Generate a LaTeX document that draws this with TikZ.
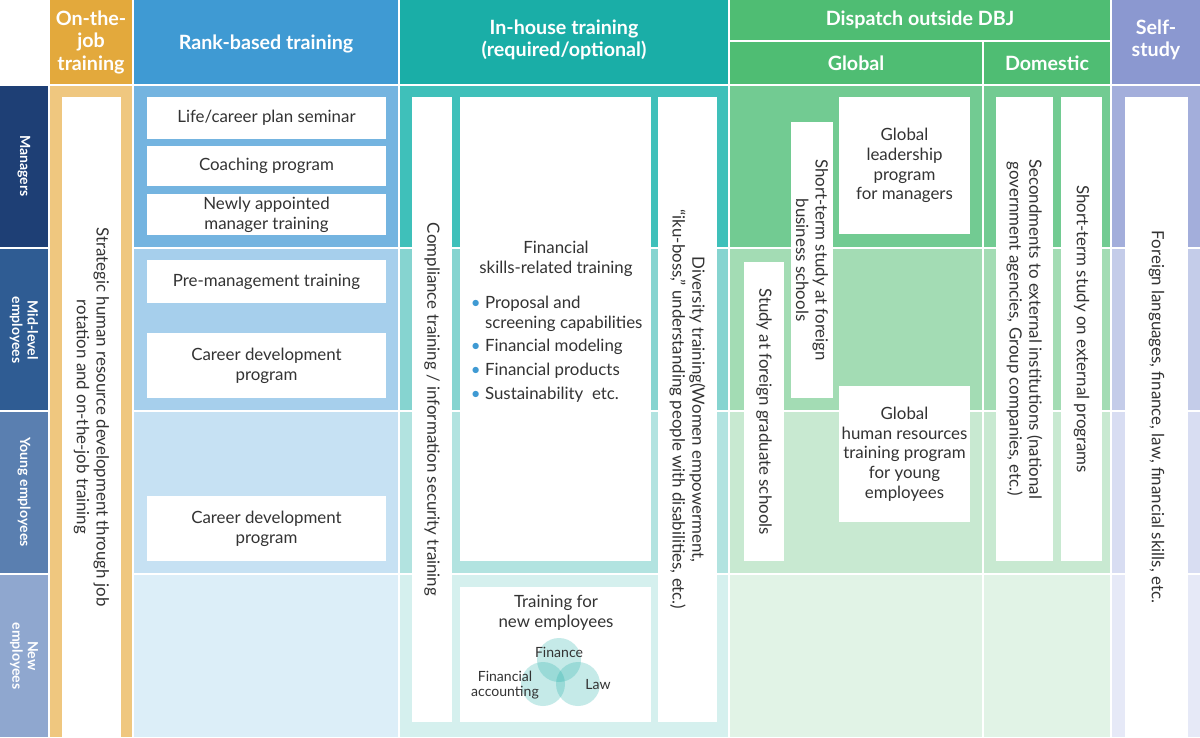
\documentclass[tikz,border=0pt]{standalone}
\usepackage{fontspec}
\setmainfont{Lato}
\usetikzlibrary{positioning}
\definecolor{ojt}{HTML}{E3A93C}
\definecolor{ojtbody}{HTML}{EFC77F}
\definecolor{rank}{HTML}{3F9AD3}
\definecolor{inh}{HTML}{1AAEA7}
\definecolor{disp}{HTML}{4FBD73}
\definecolor{self}{HTML}{8B98D0}
\definecolor{rowman}{HTML}{1E3F75}
\definecolor{rowmid}{HTML}{2F5C93}
\definecolor{rowyoung}{HTML}{5A7FB0}
\definecolor{rownew}{HTML}{8FA7CF}
\tikzset{
  head/.style={text=white, font=\bfseries\fontsize{14}{16}\selectfont, align=center},
  rowlab/.style={text=white, font=\bfseries\fontsize{10}{11}\selectfont, align=center, rotate=-90},
  boxtext/.style={font=\fontsize{12}{14}\selectfont, text=black!80, align=center},
}
% white box from (x1,y1) to (x2,y2), text in the middle
\newcommand{\wbox}[7][0]{%
  \fill[white] (#3,#4) rectangle (#5,#6);
  \node[boxtext, rotate=#1] (#2) at ({(#3+#5)/2},{(#4+#6)/2}) {#7};}
\begin{document}
\begin{tikzpicture}[x=0.025cm, y=-0.025cm]
  \useasboundingbox (0,0) rectangle (1200,737);
  \fill[white] (0,0) rectangle (1200,737);

  % headers
  \fill[ojt] (50,0) rectangle (132,84);
  \fill[rank] (134,0) rectangle (398,84);
  \fill[inh] (400,0) rectangle (728,84);
  \fill[disp] (730,0) rectangle (1110,40);
  \fill[disp] (730,42) rectangle (982,84);
  \fill[disp] (984,42) rectangle (1110,84);
  \fill[self] (1112,0) rectangle (1200,84);
  \node[head] (hojt) at (91,42) {On-the-\\job\\training};
  \node[head] (hrank) at (266,44) {Rank-based training};
  \node[head] (hinh) at (564,40) {In-house training\\(required/optional)};
  \node[head] (hdisp) at (920,20) {Dispatch outside DBJ};
  \node[head] (hglob) at (856,63) {Global};
  \node[head] (hdom) at (1047,63) {Domestic};
  \node[head] (hself) at (1156,40) {Self-\\study};

  % row labels
  \fill[rowman] (0,86) rectangle (48,247);
  \fill[rowmid] (0,249) rectangle (48,410);
  \fill[rowyoung] (0,412) rectangle (48,573);
  \fill[rownew] (0,575) rectangle (48,737);
  \node[rowlab] (rman) at (24,166) {Managers};
  \node[rowlab] (rmid) at (24,330) {Mid-level\\employees};
  \node[rowlab] (ryoung) at (24,492) {Young employees};
  \node[rowlab] (rnew) at (24,656) {New\\employees};

  % column bodies, one shade per row
  \foreach \ya/\yb/\cr/\ci/\cd/\cs in {
      86/247/74B4E0/3FC0BA/72CB92/A3AEDB,
      249/410/A6CFEC/86D4D0/A3DCB4/C4CCE9,
      412/573/C6E1F3/B2E3E0/C8E9D1/D8DDF2,
      575/737/DCEEF8/D5F0EE/E1F3E6/E6E9F7}{
    \definecolor{cr}{HTML}{\cr}
    \definecolor{ci}{HTML}{\ci}
    \definecolor{cd}{HTML}{\cd}
    \definecolor{cs}{HTML}{\cs}
    \fill[cr] (134,\ya) rectangle (398,\yb);
    \fill[ci] (400,\ya) rectangle (728,\yb);
    \fill[cd] (730,\ya) rectangle (982,\yb);
    \fill[cd] (984,\ya) rectangle (1110,\yb);
    \fill[cs] (1112,\ya) rectangle (1200,\yb);
  }
  \fill[ojtbody] (50,86) rectangle (132,737);

  % on-the-job
  \wbox[-90]{ojtbox}{62}{97}{121}{737}{Strategic human resource development through job\\rotation and on-the-job training}

  % rank-based
  \wbox{life}{147}{97}{386}{139}{Life/career plan seminar}
  \wbox{coach}{147}{146}{386}{186}{Coaching program}
  \wbox{newmgr}{147}{194}{386}{235}{Newly appointed\\manager training}
  \wbox{premgt}{147}{260}{386}{303}{Pre-management training}
  \wbox{cdpmid}{147}{333}{386}{398}{Career development\\program}
  \wbox{cdpyoung}{147}{496}{386}{561}{Career development\\program}

  % in-house
  \wbox[-90]{compl}{412}{97}{452}{722}{Compliance training / information security training}
  \wbox{fin}{460}{97}{651}{561}{}
  \node[boxtext] (fintitle) at (556,259) {Financial\\skills-related training};
  \node[boxtext, align=left, anchor=north west] (finlist) at (466,291)
    {{\color{rank}\textbullet}\ Proposal and\\
     \phantom{\textbullet}\ screening capabilities\\[3pt]
     {\color{rank}\textbullet}\ Financial modeling\\[3pt]
     {\color{rank}\textbullet}\ Financial products\\[3pt]
     {\color{rank}\textbullet}\ Sustainability\ \ etc.};
  \wbox[-90]{divers}{658}{97}{717}{722}{Diversity training(Women empowerment,\\``iku-boss,'' understanding people with disabilities, etc.)}
  \wbox{newtr}{460}{587}{651}{722}{}
  \node[boxtext] (newtitle) at (556,613) {Training for\\new employees};
  \fill[inh, opacity=0.25] (559,660) circle (22);
  \fill[inh, opacity=0.25] (543,684) circle (22);
  \fill[inh, opacity=0.25] (578,684) circle (22);
  \node[boxtext, font=\fontsize{10}{11}\selectfont] (vfin) at (559,652) {Finance};
  \node[boxtext, font=\fontsize{10}{11}\selectfont] (vacc) at (505,685) {Financial\\accounting};
  \node[boxtext, font=\fontsize{10}{11}\selectfont] (vlaw) at (598,685) {Law};

  % dispatch outside: global
  \wbox[-90]{grad}{744}{262}{784}{561}{Study at foreign graduate schools}
  \wbox[-90]{bschool}{791}{122}{833}{398}{Short-term study at foreign\\business schools}
  \wbox{glead}{839}{97}{970}{234}{Global\\leadership\\program\\for managers}
  \wbox{ghr}{839}{386}{970}{522}{Global\\human resources\\training program\\for young\\employees}

  % dispatch outside: domestic
  \wbox[-90]{second}{996}{97}{1053}{561}{Secondments to external institutions (national\\government agencies, Group companies, etc.)}
  \wbox[-90]{extprog}{1061}{97}{1102}{561}{Short-term study on external programs}

  % self-study
  \wbox[-90]{selfbox}{1125}{97}{1188}{737}{Foreign languages, finance, law, financial skills, etc.}
\end{tikzpicture}
\end{document}
